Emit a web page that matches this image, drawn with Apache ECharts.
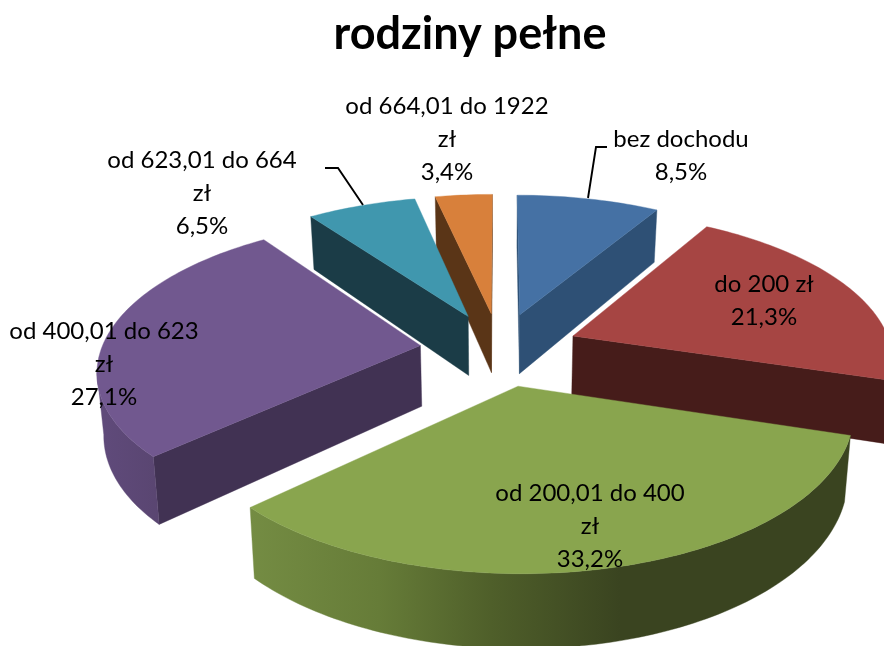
<!DOCTYPE html>
<html><head><meta charset="utf-8">
<style>html,body{margin:0;padding:0;background:#fff}#c{width:884px;height:646px}</style>
<script src="https://cdn.jsdelivr.net/npm/echarts@6/dist/echarts.min.js"></script>
</head><body><div id="c"></div>
<script>
const chartTitle = 'rodziny pełne';
const categories = ['bez dochodu','do 200 zł','od 200,01 do 400\nzł','od 400,01 do 623\nzł','od 623,01 do 664\nzł','od 664,01 do 1922\nzł'];
const shares = [8.5,21.3,33.2,27.1,6.5,3.4];

// presentation only
const topColors  = ['#4571a4','#a64543','#89a54e','#71588f','#4097ae','#d8803b'];
const cutColors  = ['#2e5075','#461c1a','#3a4420','#413253','#1b3c47','#5a3517'];
const paintOrder = [2,3,5,1,4,0];   // per slice: back to front rank
const FONT = 'Lato, "Noto Sans", sans-serif';
const view = {cx:499.5, cy:349, R:319, Q:147, p:0.15, explode:0.25, depth:61, shrink:0.983};
const labelSpots = [[681,155.5],[764,300.5],[590,526],[104,364],[202,193.5],[447,139.5]];
const leaderLines = {0:[[588,198],[596,147],[607,147]], 4:[[363,205],[338,168],[325,168]]};

const total = shares.reduce((a,b)=>a+b,0);
function project(X,Y){
  const k = 1/(1+view.p*Y);
  return {x:view.cx+view.R*X*k, y:view.cy-view.Q*Y*k, k};
}
function drop(pt){
  return [view.cx+(pt.x-view.cx)*view.shrink, pt.y+view.depth*pt.k];
}
function arcFill(i){
  if(i===2) return new echarts.graphic.LinearGradient(250,0,620,0,[
    {offset:0,color:'#748c43'},{offset:.35,color:'#667c38'},{offset:.65,color:'#4f5f2a'},{offset:1,color:'#3a4420'}],true);
  if(i===3) return new echarts.graphic.LinearGradient(105,0,165,0,[
    {offset:0,color:'#5f4a7a'},{offset:1,color:'#594570'}],true);
  return cutColors[i];
}
function renderItem(params, api){
  const i = params.dataIndex, v = api.value(0);
  const before = shares.slice(0,i).reduce((a,b)=>a+b,0);
  const a0 = before/total*2*Math.PI, a1 = (before+v)/total*2*Math.PI, mid=(a0+a1)/2;
  const ox = view.explode*Math.sin(mid), oy = view.explode*Math.cos(mid);
  const apex = project(ox,oy);
  const arc = [];
  const n = Math.max(6,Math.ceil((a1-a0)/0.02));
  for(let s=0;s<=n;s++){
    const a = a0+(a1-a0)*s/n;
    arc.push(project(ox+Math.sin(a),oy+Math.cos(a)));
  }
  const rank = paintOrder[i]*10;
  const kids = [];
  const wall = (pts,fill)=>{
    const lower = pts.map(drop).reverse();
    kids.push({type:'polygon',z2:rank+1,shape:{points:pts.map(q=>[q.x,q.y]).concat(lower)},
      style:{fill,stroke:fill,lineWidth:.4}});
  };
  if(arc[0].x<apex.x) wall([apex,arc[0]],cutColors[i]);
  if(arc[n].x>apex.x) wall([arc[n],apex],cutColors[i]);
  let run=[];
  for(let s=0;s<n;s++){
    if(arc[s+1].x<arc[s].x){ if(!run.length) run.push(arc[s]); run.push(arc[s+1]); }
    else if(run.length){ wall(run,arcFill(i)); run=[]; }
  }
  if(run.length) wall(run,arcFill(i));
  kids.push({type:'polygon',z2:rank+2,shape:{points:[[apex.x,apex.y]].concat(arc.map(q=>[q.x,q.y]))},
    style:{fill:topColors[i],stroke:topColors[i],lineWidth:.4}});
  if(leaderLines[i]) kids.push({type:'polyline',z2:200,shape:{points:leaderLines[i]},
    style:{fill:'none',stroke:'#000',lineWidth:1.9}});
  kids.push({type:'text',z2:201,x:labelSpots[i][0],y:labelSpots[i][1],
    style:{text:categories[i]+'\n'+String(v).replace('.',',')+'%',align:'center',verticalAlign:'middle',
      font:'400 24px '+FONT,lineHeight:33,fill:'#000'}});
  return {type:'group',children:kids};
}
const chart = echarts.init(document.getElementById('c'),null,{renderer:'canvas'});
chart.setOption({
  animation:false,
  backgroundColor:'#fff',
  title:{text:chartTitle,left:465,top:7,textAlign:'center',
    textStyle:{fontFamily:FONT,fontWeight:'bold',fontSize:45,color:'#000'}},
  series:[{type:'custom',coordinateSystem:'none',clip:false,silent:true,
    renderItem,data:shares.map(v=>[v])}]
});
</script></body></html>
